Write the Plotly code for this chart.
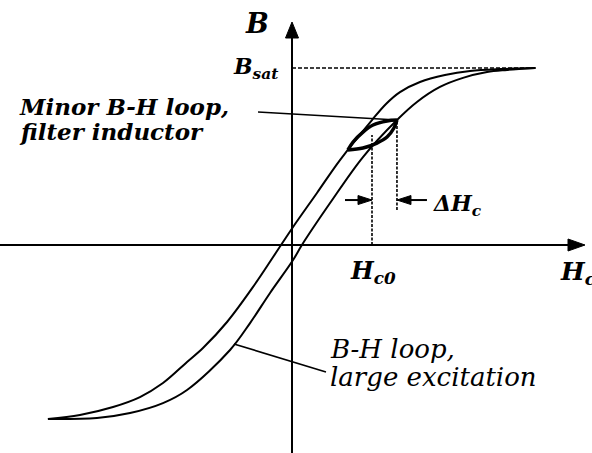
import plotly.graph_objects as go

# ---- data (H and B normalised so that B_sat = 1, same scale on both axes) ----
# descending branch of the large-excitation loop (left curve)
H_desc = [-1.379, -1.198, -1.011, -0.859, -0.729, -0.593, -0.503, -0.367, -0.220,
          -0.062, 0.006, 0.141, 0.271, 0.452, 0.531, 0.610, 0.723, 0.864, 1.006,
          1.175, 1.373]
B_desc = [-0.983, -0.960, -0.915, -0.859, -0.780, -0.661, -0.582, -0.435, -0.237,
          0.000, 0.102, 0.294, 0.480, 0.706, 0.797, 0.864, 0.921, 0.960, 0.983,
          0.994, 1.000]
# ascending branch of the large-excitation loop (right curve)
H_asc = [-1.379, -1.102, -0.915, -0.729, -0.593, -0.350, -0.237, -0.124, 0.006,
         0.056, 0.215, 0.401, 0.593, 0.706, 0.836, 0.966, 1.102, 1.215, 1.373]
B_asc = [-0.983, -0.977, -0.949, -0.893, -0.819, -0.593, -0.441, -0.271, -0.085,
         0.000, 0.237, 0.497, 0.706, 0.808, 0.893, 0.944, 0.977, 0.989, 1.000]
# minor loop of the filter inductor: upper and lower arcs between its tips
H_minor_up = [0.316, 0.345, 0.401, 0.458, 0.537, 0.593]
B_minor_up = [0.537, 0.582, 0.638, 0.678, 0.701, 0.706]
H_minor_lo = [0.316, 0.401, 0.480, 0.537, 0.576, 0.593]
B_minor_lo = [0.537, 0.548, 0.576, 0.610, 0.661, 0.706]

B_SAT = 1.0
H_C0 = 0.452
DELTA_HC = 0.141

# ---- page geometry: 177 px per unit on both axes ----
PX = 177.0
X_RANGE = [-292 / PX, 300 / PX]
Y_RANGE = [-208 / PX, 245 / PX]

INK = "black"
FONT = "DejaVu Serif"

fig = go.Figure()

line_kw = dict(mode="lines", line=dict(color=INK, width=2, shape="spline", smoothing=1.0),
               hoverinfo="skip", showlegend=False)
fig.add_trace(go.Scatter(x=H_desc, y=B_desc, **line_kw))
fig.add_trace(go.Scatter(x=H_asc, y=B_asc, **line_kw))

minor_kw = dict(mode="lines", line=dict(color=INK, width=3.5, shape="spline", smoothing=1.0),
                hoverinfo="skip", showlegend=False)
fig.add_trace(go.Scatter(x=H_minor_up, y=B_minor_up, **minor_kw))
fig.add_trace(go.Scatter(x=H_minor_lo, y=B_minor_lo, **minor_kw))

shapes = []


def seg(x0, y0, x1, y1, width=2.0, dash="solid"):
    shapes.append(dict(type="line", xref="x", yref="y", x0=x0, y0=y0, x1=x1, y1=y1,
                       line=dict(color=INK, width=width, dash=dash)))


def head(tx, ty, ux, uy, length, half):
    """Filled triangular arrowhead with its tip at (tx, ty), pointing along (ux, uy)."""
    L, W = length / PX, half / PX
    bx, by = tx - ux * L, ty - uy * L
    px_, py_ = -uy * W, ux * W
    path = (f"M {tx},{ty} L {bx + px_},{by + py_} "
            f"L {bx - px_},{by - py_} Z")
    shapes.append(dict(type="path", xref="x", yref="y", path=path,
                       fillcolor=INK, line=dict(color=INK, width=1)))


# axes with arrowheads
v_top = 223 / PX
h_right = 293 / PX
seg(0, Y_RANGE[0], 0, v_top - 10 / PX)
head(0, v_top, 0, 1, 16, 6.5)
seg(X_RANGE[0], 0, h_right - 10 / PX, 0)
head(h_right, 0, 1, 0, 17, 6)

# saturation level
seg(0, B_SAT, 245 / PX, B_SAT, width=1.6, dash="4px,2px")

# H_c0 and H_c0 + dH_c markers
seg(H_C0, 0, H_C0, 0.621, width=1.6, dash="3px,1.5px")
seg(H_C0 + DELTA_HC, 0.198, H_C0 + DELTA_HC, B_minor_up[-1], width=1.6, dash="3px,1.5px")

# dH_c arrows
y_arrow = 0.254
seg(H_C0 - 27 / PX, y_arrow, H_C0 - 8 / PX, y_arrow, width=2)
head(H_C0, y_arrow, 1, 0, 14, 4.5)
seg(H_C0 + DELTA_HC + 30 / PX, y_arrow, H_C0 + DELTA_HC + 8 / PX, y_arrow, width=2)
head(H_C0 + DELTA_HC, y_arrow, -1, 0, 14, 4.5)

# leader lines
seg(-0.192, 0.751, H_minor_up[-1], B_minor_up[-1], width=1.6)
seg(-0.328, -0.559, 0.192, -0.718, width=1.6)

fig.update_layout(shapes=shapes)


def label(x, y, text, size, xanchor="left", yanchor="middle"):
    fig.add_annotation(x=x, y=y, xref="x", yref="y", text=text, showarrow=False,
                       xanchor=xanchor, yanchor=yanchor,
                       font=dict(family=FONT, size=size, color=INK))


label(-0.198, 1.254, "<b><i>B</i></b>", 27, xanchor="center")
label(-0.345, 1.000, "<b><i>B<sub>sat</sub></i></b>", 22)
label(-1.555, 0.782, "<b><i>Minor B-H loop,</i></b>", 23)
label(-1.555, 0.644, "<b><i>filter inductor</i></b>", 23)
label(0.203, -0.590, "<i>B-H loop,</i>", 26)
label(0.203, -0.748, "<i>large excitation</i>", 26)
label(0.316, -0.150, "<b><i>H<sub>c0</sub></i></b>", 24)
label(0.785, 0.225, "<b><i>ΔH<sub>c</sub></i></b>", 22)
label(1.503, -0.160, "<b><i>H<sub>c</sub></i></b>", 25)

fig.update_xaxes(range=X_RANGE, visible=False, fixedrange=True)
fig.update_yaxes(range=Y_RANGE, visible=False, fixedrange=True)
fig.update_layout(width=592, height=453, margin=dict(l=0, r=0, t=0, b=0),
                  plot_bgcolor="white", paper_bgcolor="white", showlegend=False)

fig.write_html("out.html", config={"displayModeBar": False})
